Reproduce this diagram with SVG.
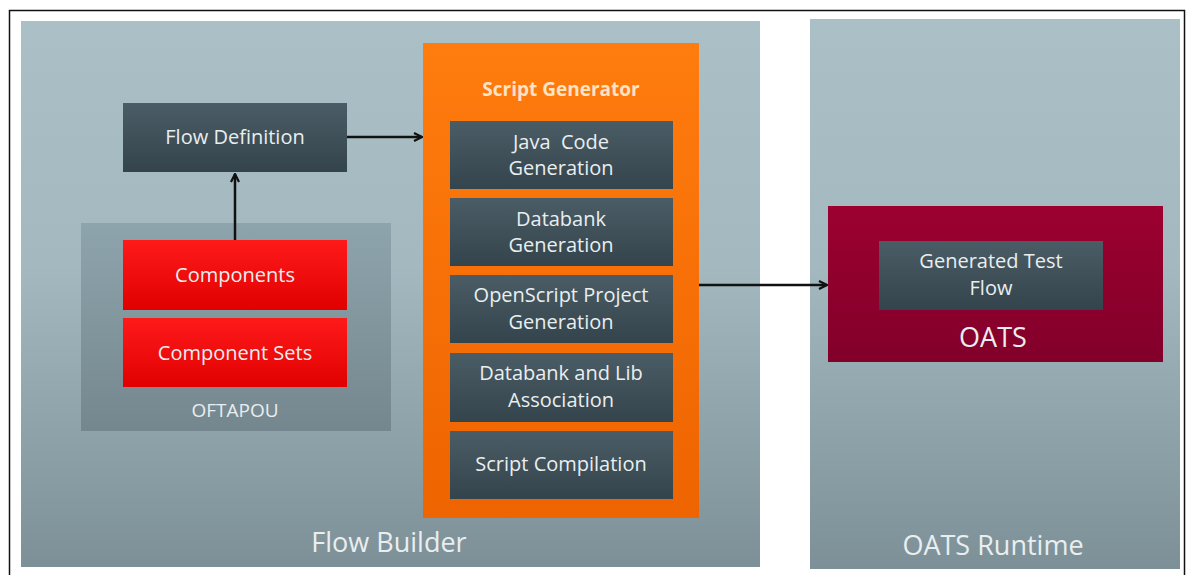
<svg xmlns="http://www.w3.org/2000/svg" width="1188" height="575" viewBox="0 0 1188 575">
<defs>
<linearGradient id="gPanel" x1="0" y1="0" x2="0" y2="1">
<stop offset="0" stop-color="#aac0c6"/><stop offset="0.45" stop-color="#a3b9bf"/><stop offset="1" stop-color="#7d9097"/>
</linearGradient>
<linearGradient id="gOft" x1="0" y1="0" x2="0" y2="1">
<stop offset="0" stop-color="#8ea4ac"/><stop offset="1" stop-color="#75878e"/>
</linearGradient>
<linearGradient id="gDark" x1="0" y1="0" x2="0" y2="1">
<stop offset="0" stop-color="#4a5c65"/><stop offset="1" stop-color="#34444c"/>
</linearGradient>
<linearGradient id="gRed" x1="0" y1="0" x2="0" y2="1">
<stop offset="0" stop-color="#ff1a1a"/><stop offset="1" stop-color="#e00000"/>
</linearGradient>
<linearGradient id="gOats" x1="0" y1="0" x2="0" y2="1">
<stop offset="0" stop-color="#9c0030"/><stop offset="1" stop-color="#82002a"/>
</linearGradient>
<linearGradient id="gOrange" x1="0" y1="0" x2="0" y2="1">
<stop offset="0" stop-color="#ff7c0e"/><stop offset="1" stop-color="#ee6400"/>
</linearGradient>
<marker id="arr" viewBox="0 0 10 10" refX="9" refY="5" markerWidth="4" markerHeight="4" orient="auto" markerUnits="strokeWidth">
<path d="M1,1 L9,5 L1,9" fill="none" stroke="#111" stroke-width="2.2"/>
</marker>
<style>
.t{font-family:"Open Sans","Noto Sans","DejaVu Sans",sans-serif;fill:#e9eef0;text-anchor:middle}
.m{font-size:20px}
.big{font-size:27px}
.dark{fill:url(#gDark)}
.con{stroke:#111;stroke-width:2.5;fill:none;marker-end:url(#arr)}
</style>
</defs>
<rect x="0" y="0" width="1188" height="575" fill="#ffffff"/>
<rect x="9.5" y="10.5" width="1175" height="580" fill="none" stroke="#111" stroke-width="1.5"/>

<g id="flow-builder">
<rect x="21" y="21" width="739" height="546" fill="url(#gPanel)"/>
<text class="t big" x="389" y="552">Flow Builder</text>
</g>

<g id="oats-runtime">
<rect x="810" y="19" width="370" height="550" fill="url(#gPanel)"/>
<text class="t big" x="993" y="555">OATS Runtime</text>
</g>

<g id="oftapou">
<rect x="81" y="223" width="310" height="208" fill="url(#gOft)"/>
<text class="t" x="235" y="417" font-size="19">OFTAPOU</text>
</g>

<g id="components">
<rect x="123" y="240" width="224" height="70" fill="url(#gRed)"/>
<text class="t m" x="235" y="282">Components</text>
</g>

<g id="component-sets">
<rect x="123" y="318" width="224" height="69" fill="url(#gRed)"/>
<text class="t m" x="235" y="360">Component Sets</text>
</g>

<g id="flow-definition">
<rect x="123" y="103" width="224" height="69" class="dark"/>
<text class="t m" x="235" y="144">Flow Definition</text>
</g>

<g id="script-generator">
<rect x="423" y="43" width="276" height="475" fill="url(#gOrange)"/>
<text class="t" x="561" y="96" font-size="19" font-weight="bold" style="fill:#fde3c6">Script Generator</text>
</g>

<g id="java-code-generation">
<rect x="450" y="121" width="223" height="68" class="dark"/>
<text class="t m" x="561" y="149">Java&#160; Code</text>
<text class="t m" x="561" y="175">Generation</text>
</g>

<g id="databank-generation">
<rect x="450" y="198" width="223" height="68" class="dark"/>
<text class="t m" x="561" y="226">Databank</text>
<text class="t m" x="561" y="252">Generation</text>
</g>

<g id="openscript-project-generation">
<rect x="450" y="275" width="223" height="68" class="dark"/>
<text class="t m" x="561" y="302">OpenScript Project</text>
<text class="t m" x="561" y="329">Generation</text>
</g>

<g id="databank-lib-association">
<rect x="450" y="353" width="223" height="69" class="dark"/>
<text class="t m" x="561" y="380">Databank and Lib</text>
<text class="t m" x="561" y="407">Association</text>
</g>

<g id="script-compilation">
<rect x="450" y="431" width="223" height="68" class="dark"/>
<text class="t m" x="561" y="471">Script Compilation</text>
</g>

<g id="oats">
<rect x="828" y="206" width="335" height="156" fill="url(#gOats)"/>
<text class="t" x="993" y="347" font-size="27">OATS</text>
</g>

<g id="generated-test-flow">
<rect x="879" y="241" width="224" height="69" class="dark"/>
<text class="t m" x="991" y="268">Generated Test</text>
<text class="t m" x="991" y="295">Flow</text>
</g>

<g id="connectors">
<line class="con" x1="235" y1="240" x2="235" y2="174"/>
<line class="con" x1="347" y1="137" x2="422" y2="137"/>
<line class="con" x1="699" y1="285" x2="827" y2="285"/>
</g>
</svg>
